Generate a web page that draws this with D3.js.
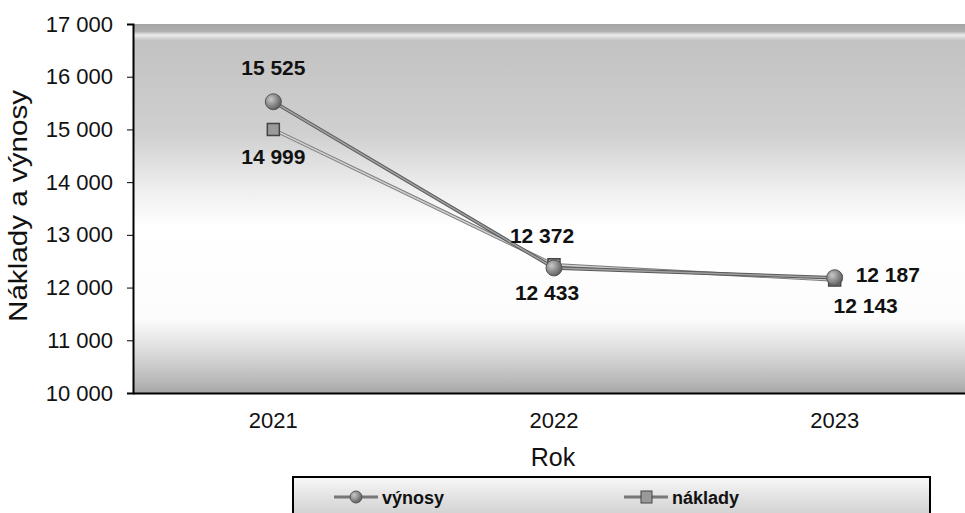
<!DOCTYPE html>
<html><head><meta charset="utf-8">
<script src="https://cdn.jsdelivr.net/npm/d3@7"></script>
<style>body{margin:0;background:#fff;}svg{display:block;font-family:"Liberation Sans",Arial,sans-serif;}</style>
</head><body>
<script>
const years = ["2021","2022","2023"];
const vynosy = [15525, 12372, 12187];
const naklady = [14999, 12433, 12143];
const yTicks = [10000,11000,12000,13000,14000,15000,16000,17000];
const seriesNames = ["výnosy","náklady"];

const W=965,H=513;
const svg=d3.select("body").append("svg").attr("width",W).attr("height",H);
const plotL=133, plotT=24, plotB=393;
const x=d3.scaleBand().domain(years).range([plotL,975]);
const y=d3.scaleLinear().domain([10000,17000]).range([plotB,plotT]);

const defs=svg.append("defs");
const g1=defs.append("linearGradient").attr("id","bg").attr("x1",0).attr("y1",0).attr("x2",0).attr("y2",1);
[[0,"#a5a5a5"],[0.02,"#b0b0b0"],[0.03,"#ececec"],[0.045,"#c2c2c2"],[0.3,"#d0d0d0"],[0.45,"#efefef"],[0.55,"#ffffff"],[0.8,"#fcfcfc"],[0.88,"#dedede"],[0.97,"#b8b8b8"],[1,"#a5a5a5"]].forEach(s=>g1.append("stop").attr("offset",s[0]).attr("stop-color",s[1]));
const g2=defs.append("linearGradient").attr("id","lg").attr("x1",0).attr("y1",0).attr("x2",0).attr("y2",1);
[[0,"#f8f8f8"],[0.5,"#e0e0e0"],[1,"#cacaca"]].forEach(s=>g2.append("stop").attr("offset",s[0]).attr("stop-color",s[1]));
const rg=defs.append("radialGradient").attr("id","ball").attr("cx","35%").attr("cy","35%").attr("r","70%");
rg.append("stop").attr("offset",0).attr("stop-color","#c8c8c8");
rg.append("stop").attr("offset",1).attr("stop-color","#5a5a5a");

svg.append("rect").attr("x",plotL).attr("y",plotT).attr("width",W-plotL).attr("height",plotB-plotT).attr("fill","url(#bg)");

const fmt=d=>d3.format(",")(d).replace(","," ");

// y axis
const ya=svg.append("g").attr("transform",`translate(${plotL},0)`)
  .call(d3.axisLeft(y).tickValues(yTicks).tickSize(6).tickPadding(14).tickFormat(fmt));
ya.selectAll("text").attr("font-size",22).attr("fill","#111").attr("font-family","Liberation Sans, Arial, sans-serif");
ya.select(".domain").attr("stroke","#000").attr("stroke-width",2);
ya.selectAll(".tick line").attr("stroke","#000");

// x axis
const xa=svg.append("g").attr("transform",`translate(0,${plotB})`)
  .call(d3.axisBottom(x).tickSize(0).tickPadding(19));
xa.select(".domain").attr("stroke","#000").attr("stroke-width",2);
xa.selectAll("text").attr("font-size",22).attr("fill","#111").attr("font-family","Liberation Sans, Arial, sans-serif");

// titles
svg.append("text").attr("transform","translate(27,206) rotate(-90)").attr("text-anchor","middle")
  .attr("font-size",26).attr("fill","#111").attr("textLength",232).attr("lengthAdjust","spacingAndGlyphs").text("Náklady a výnosy");
svg.append("text").attr("x",553).attr("y",466).attr("text-anchor","middle")
  .attr("font-size",25).attr("fill","#111").text("Rok");

const cx=d=>x(d)+x.bandwidth()/2;
const line=d3.line().x((d,i)=>cx(years[i])).y(d=>y(d));

// lines
svg.append("path").datum(naklady).attr("d",line).attr("fill","none").attr("stroke","#7a7a7a").attr("stroke-width",3.5);
svg.append("path").datum(naklady).attr("d",line).attr("fill","none").attr("stroke","#cfcfcf").attr("stroke-width",1.6);
svg.append("path").datum(vynosy).attr("d",line).attr("fill","none").attr("stroke","#5a5a5a").attr("stroke-width",3.5);
svg.append("path").datum(vynosy).attr("d",line).attr("fill","none").attr("stroke","#a0a0a0").attr("stroke-width",1.6);

// markers
svg.selectAll(".sq").data(naklady).enter().append("rect")
  .attr("x",(d,i)=>cx(years[i])-6).attr("y",d=>y(d)-6).attr("width",12).attr("height",12)
  .attr("fill","#9a9a9a").attr("stroke","#444").attr("stroke-width",1.5);
svg.selectAll(".ci").data(vynosy).enter().append("circle")
  .attr("cx",(d,i)=>cx(years[i])).attr("cy",d=>y(d)).attr("r",8)
  .attr("fill","url(#ball)").attr("stroke","#555").attr("stroke-width",1);

// data labels
const vOff=[[0,-27],[-12,-25],[21,4]];
const vAnchor=["middle","middle","start"];
const nOff=[[0,35],[-7,35],[31,33]];
svg.selectAll(".vl").data(vynosy).enter().append("text")
  .attr("x",(d,i)=>cx(years[i])+vOff[i][0]).attr("y",(d,i)=>y(d)+vOff[i][1])
  .attr("text-anchor",(d,i)=>vAnchor[i]).attr("font-size",21).attr("font-weight","bold").attr("fill","#111").text(fmt);
svg.selectAll(".nl").data(naklady).enter().append("text")
  .attr("x",(d,i)=>cx(years[i])+nOff[i][0]).attr("y",(d,i)=>y(d)+nOff[i][1])
  .attr("text-anchor","middle").attr("font-size",21).attr("font-weight","bold").attr("fill","#111").text(fmt);

// legend
const lg=svg.append("g");
lg.append("rect").attr("x",293).attr("y",477).attr("width",637).attr("height",45).attr("fill","url(#lg)").attr("stroke","#000").attr("stroke-width",2);
const items=[{n:seriesNames[0],x:334,t:"c"},{n:seriesNames[1],x:624,t:"s"}];
items.forEach(it=>{
  const yy=497;
  lg.append("line").attr("x1",it.x).attr("x2",it.x+44).attr("y1",yy).attr("y2",yy).attr("stroke","#777").attr("stroke-width",3);
  if(it.t==="c") lg.append("circle").attr("cx",it.x+22).attr("cy",yy).attr("r",6).attr("fill","url(#ball)").attr("stroke","#555");
  else lg.append("rect").attr("x",it.x+17).attr("y",yy-6).attr("width",11).attr("height",12).attr("fill","#999").attr("stroke","#444");
  lg.append("text").attr("x",it.x+48).attr("y",yy+7).attr("font-size",18).attr("font-weight","bold").attr("fill","#111").text(it.n);
});
</script>
</body></html>
